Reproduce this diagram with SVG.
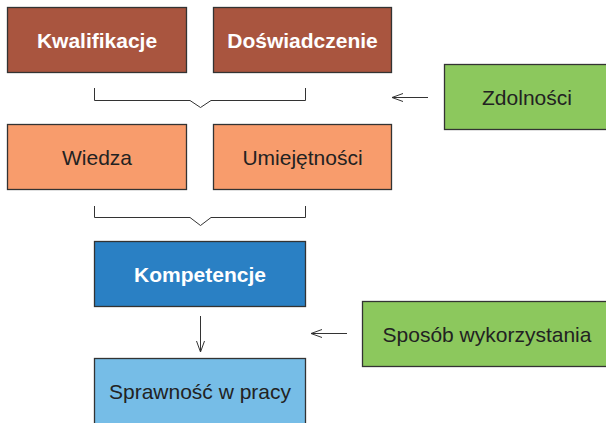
<svg xmlns="http://www.w3.org/2000/svg" width="606" height="423" viewBox="0 0 606 423">
<defs>
<marker id="open" markerWidth="12" markerHeight="10" refX="11" refY="5" orient="auto" markerUnits="userSpaceOnUse">
<path d="M0,1 L11,5 L0,9" fill="none" stroke="#333" stroke-width="1"/>
</marker>
</defs>
<style>
.box{stroke:#333;stroke-width:1.3}
.t{font-family:"Liberation Sans",Arial,sans-serif;font-size:21px;text-anchor:middle;fill:#222}
.b{font-weight:bold;fill:#fff}
.c{fill:none;stroke:#333;stroke-width:1}
</style>
<rect width="606" height="423" fill="#fff"/>
<g id="kwalifikacje"><rect class="box" x="7.5" y="7.5" width="179" height="65" fill="#a9553f"/><text class="t b" x="97" y="48">Kwalifikacje</text></g>
<g id="doswiadczenie"><rect class="box" x="213.5" y="7.5" width="178" height="65" fill="#a9553f"/><text class="t b" x="302.5" y="48">Doświadczenie</text></g>
<g id="zdolnosci"><rect class="box" x="444.5" y="64.5" width="170" height="65" fill="#8cc85d"/><text class="t" x="527" y="105">Zdolności</text></g>
<g id="wiedza"><rect class="box" x="7.5" y="124.5" width="179" height="65" fill="#f89c6c"/><text class="t" x="97" y="165">Wiedza</text></g>
<g id="umiejetnosci"><rect class="box" x="213.5" y="124.5" width="178" height="65" fill="#f89c6c"/><text class="t" x="302.5" y="165">Umiejętności</text></g>
<g id="kompetencje"><rect class="box" x="94.5" y="241.5" width="211" height="65" fill="#2a80c4"/><text class="t b" x="200" y="282">Kompetencje</text></g>
<g id="sposob"><rect class="box" x="362.5" y="301.5" width="250" height="65" fill="#8cc85d"/><text class="t" x="487" y="342">Sposób wykorzystania</text></g>
<g id="sprawnosc"><rect class="box" x="94.5" y="358.5" width="211" height="70" fill="#76bde7"/><text class="t" x="200" y="399">Sprawność w pracy</text></g>
<g id="connectors">
<path class="c" d="M94.5,88 V100.5 H190 L200.5,107.5 L211,100.5 H305.5 V88"/>
<path class="c" d="M94.5,206 V217.5 H190 L200.5,225.5 L211,217.5 H305.5 V206"/>
<line class="c" x1="200.5" y1="316" x2="200.5" y2="352" marker-end="url(#open)"/>
<line class="c" x1="428" y1="97.5" x2="392" y2="97.5" marker-end="url(#open)"/>
<line class="c" x1="347" y1="333.5" x2="311" y2="333.5" marker-end="url(#open)"/>
</g>
</svg>
